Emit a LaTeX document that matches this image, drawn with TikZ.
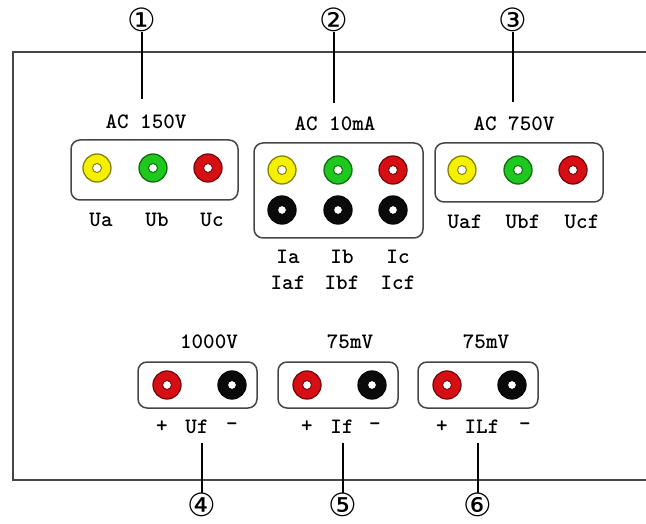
\documentclass[tikz,border=0pt]{standalone}
\usepackage{fontspec}
\newfontfamily\numfont{DejaVu Sans}
\newfontfamily\lblfont{lmmonolt10-bold}[Extension=.otf]
\usetikzlibrary{positioning}
\definecolor{jyellow}{RGB}{245,240,0}
\definecolor{jgreen}{RGB}{30,200,30}
\definecolor{jred}{RGB}{215,15,20}
\definecolor{jblack}{RGB}{10,10,10}
\definecolor{edge}{RGB}{70,70,70}

\begin{document}
\begin{tikzpicture}[x=1pt, y=-1pt,
    socket/.style={draw=edge, line width=1.5pt, rounded corners=9pt,
                   minimum width=#1, inner sep=0pt},
    jack/.style={circle, fill=#1, draw=#1!55!black, line width=1.3pt,
                 minimum size=28pt, inner sep=0pt,
                 path picture={\filldraw[fill=white, draw=#1!55!black, line width=1pt]
                   (path picture bounding box.center) circle (4.5pt);}},
    lbl/.style={font=\lblfont\fontsize{22}{26}\selectfont, inner sep=1pt, align=center},
    num/.style={font=\numfont\fontsize{32}{32}\selectfont, inner sep=0pt},
    lead/.style={line width=1.2pt, black}
]
    \useasboundingbox (0,0) rectangle (646,524);

    % Panel outline (open on the right)
    \draw[edge, line width=1.5pt] (646,52) -- (13,52) -- (13,480) -- (646,480);

    % AC 150V group
    \node[socket=167pt, minimum height=60pt] (box1) at (154.5,170) {};
    \node[jack=jyellow] (ua) at (97,168) {};
    \node[jack=jgreen] (ub) at (153,168) {};
    \node[jack=jred] (uc) at (208,168) {};
    \node[lbl] (ac150) at (146,122) {AC 150V};
    \node[lbl] (lua) at (101,220) {Ua};
    \node[lbl] (lub) at (157,220) {Ub};
    \node[lbl] (luc) at (212,220) {Uc};

    % AC 10mA group
    \node[socket=169pt, minimum height=95pt] (box2) at (338.5,190.5) {};
    \node[jack=jyellow] (ia) at (282,170) {};
    \node[jack=jgreen] (ib) at (338,170) {};
    \node[jack=jred] (ic) at (393,170) {};
    \node[jack=jblack] (iaf) at (282,210) {};
    \node[jack=jblack] (ibf) at (338,210) {};
    \node[jack=jblack] (icf) at (393,210) {};
    \node[lbl] (ac10) at (335,124) {AC 10mA};
    \node[lbl] (lia) at (288,270) {Ia\\Iaf};
    \node[lbl] (lib) at (342,270) {Ib\\Ibf};
    \node[lbl] (lic) at (398,270) {Ic\\Icf};

    % AC 750V group
    \node[socket=168pt, minimum height=59pt] (box3) at (519,172.5) {};
    \node[jack=jyellow] (uaf) at (462,170) {};
    \node[jack=jgreen] (ubf) at (518,170) {};
    \node[jack=jred] (ucf) at (573,170) {};
    \node[lbl] (ac750) at (514,124) {AC 750V};
    \node[lbl] (luaf) at (465,222) {Uaf};
    \node[lbl] (lubf) at (523,222) {Ubf};
    \node[lbl] (lucf) at (582,222) {Ucf};

    % DC groups
    \node[socket=119pt, minimum height=46pt] (box4) at (197.5,385) {};
    \node[jack=jred] (ufp) at (167,385) {};
    \node[jack=jblack] (ufm) at (232,385) {};
    \node[lbl] (v1000) at (209,342) {1000V};
    \node[lbl] (pl4) at (162,427) {+};
    \node[lbl] (luf) at (197,427) {Uf};
    \node[lbl] (mi4) at (232,427) {-};

    \node[socket=120pt, minimum height=46pt] (box5) at (338,385) {};
    \node[jack=jred] (ifp) at (307,385) {};
    \node[jack=jblack] (ifm) at (372,385) {};
    \node[lbl] (mv1) at (350,342) {75mV};
    \node[lbl] (pl5) at (307,427) {+};
    \node[lbl] (lif) at (342,427) {If};
    \node[lbl] (mi5) at (375,427) {-};

    \node[socket=120pt, minimum height=46pt] (box6) at (478,385) {};
    \node[jack=jred] (ilp) at (447,385) {};
    \node[jack=jblack] (ilm) at (512,385) {};
    \node[lbl] (mv2) at (486,342) {75mV};
    \node[lbl] (pl6) at (442,427) {+};
    \node[lbl] (lilf) at (482,427) {ILf};
    \node[lbl] (mi6) at (525,427) {-};

    % Callout numbers
    \node[num] (c1) at (142,20) {①};
    \node[num] (c2) at (334,20) {②};
    \node[num] (c3) at (513,20) {③};
    \node[num] (c4) at (202,505) {④};
    \node[num] (c5) at (343,505) {⑤};
    \node[num] (c6) at (478,505) {⑥};

    % Leaders
    \draw[lead, shorten >=15pt] (c1) -- (c1 |- ac150.north);
    \draw[lead, shorten >=13pt] (c2) -- (c2 |- ac10.north);
    \draw[lead, shorten >=14pt] (c3) -- (c3 |- ac750.north);
    \draw[lead, shorten <=8pt] (c4 |- luf.south) -- (c4);
    \draw[lead, shorten <=8pt] (c5 |- lif.south) -- (c5);
    \draw[lead, shorten <=8pt] (c6 |- lilf.south) -- (c6);
\end{tikzpicture}
\end{document}
